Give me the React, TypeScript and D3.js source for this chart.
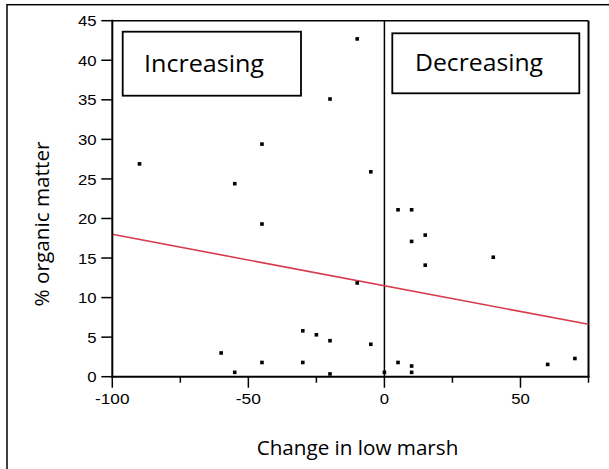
import React from "react";
import * as d3 from "d3";

const xValues = [-90, -60, -55, -55, -45, -45, -45, -30, -30, -25, -20, -20, -20, -10, -10, -5, -5, 0, 5, 5, 10, 10, 10, 10, 15, 15, 40, 60, 70];
const yValues = [26.9, 3.0, 24.4, 0.55, 29.4, 19.3, 1.8, 5.8, 1.8, 5.3, 35.1, 4.55, 0.35, 42.7, 11.85, 25.9, 4.1, 0.55, 21.1, 1.8, 21.1, 17.1, 1.35, 0.55, 17.9, 14.1, 15.1, 1.55, 2.3];
const xMajorTicks = [-100, -50, 0, 50];
const xMinorTicks = [-75, -25, 25, 75];
const yTicks = [0, 5, 10, 15, 20, 25, 30, 35, 40, 45];
const fitIntercept = 11.5;
const fitSlope = -0.065;
const xDomain = [-100, 75];
const yDomain = [0, 45];

const W = 609;
const H = 469;
const left = 112.3;
const right = 588.5;
const top = 20.7;
const bottom = 376.7;

const tickFont = "'Liberation Sans', Arial, sans-serif";
const textFont = "'Open Sans', 'Noto Sans', sans-serif";

function labelLength(t: number) {
  const s = String(t);
  const digits = s.replace("-", "").length;
  return digits * 9.3 + (s.startsWith("-") ? 6.5 : 0);
}

export default function App() {
  const x = d3.scaleLinear().domain(xDomain).range([left, right]);
  const y = d3.scaleLinear().domain(yDomain).range([bottom, top]);
  const line = d3
    .line<number>()
    .x((d) => x(d))
    .y((d) => y(fitIntercept + fitSlope * d));
  const sq = 3.6;

  return (
    <svg
      width={W}
      height={H}
      style={{ position: "fixed", left: 0, top: 0, background: "#fff" }}
    >
      <rect x={0} y={0} width={W} height={H} fill="#fff" />
      {/* outer frame */}
      <rect x={7} y={4.7} width={640} height={520} fill="none" stroke="#000" strokeWidth={1.5} />

      {/* plot frame top/right */}
      <line x1={left} x2={right} y1={top} y2={top} stroke="#000" strokeWidth={1.5} />
      <line x1={right} x2={right} y1={top} y2={bottom} stroke="#000" strokeWidth={2} />

      {/* zero vertical line */}
      <line x1={x(0)} x2={x(0)} y1={top} y2={bottom} stroke="#000" strokeWidth={1.5} />

      {/* Boxes */}
      <rect x={122.7} y={31.7} width={178.3} height={64} fill="#fff" stroke="#000" strokeWidth={1.8} />
      <text x={144} y={72} fontFamily={textFont} fontSize={24.5} textLength={120} lengthAdjust="spacingAndGlyphs">
        Increasing
      </text>
      <rect x={392.3} y={33.3} width={187} height={60} fill="#fff" stroke="#000" strokeWidth={1.8} />
      <text x={415} y={71} fontFamily={textFont} fontSize={24.5} textLength={128} lengthAdjust="spacingAndGlyphs">
        Decreasing
      </text>

      {/* regression line */}
      <path d={line(xDomain) || ""} fill="none" stroke="#d83a4e" strokeWidth={1.6} />

      {/* points */}
      {xValues.map((xv, i) => (
        <rect
          key={i}
          x={x(xv) - sq / 2}
          y={y(yValues[i]) - sq / 2}
          width={sq}
          height={sq}
          fill="#000"
        />
      ))}

      {/* y axis */}
      <line x1={left} x2={left} y1={top - 1} y2={bottom + 1} stroke="#000" strokeWidth={2} />
      {yTicks.map((t) => (
        <g key={t}>
          <line x1={left - 11} x2={left} y1={y(t)} y2={y(t)} stroke="#000" strokeWidth={1.5} />
          <text
            x={96.5}
            y={y(t)}
            dy="0.36em"
            textAnchor="end"
            fontFamily={tickFont}
            fontSize={15.5}
            textLength={labelLength(t)}
            lengthAdjust="spacingAndGlyphs"
          >
            {t}
          </text>
        </g>
      ))}

      {/* x axis */}
      <line x1={left - 1} x2={right + 1} y1={bottom} y2={bottom} stroke="#000" strokeWidth={2} />
      {xMajorTicks.map((t) => (
        <g key={t}>
          <line x1={x(t)} x2={x(t)} y1={bottom} y2={bottom + 11} stroke="#000" strokeWidth={1.5} />
          <text
            x={x(t)}
            y={403.5}
            textAnchor="middle"
            fontFamily={tickFont}
            fontSize={15.5}
            textLength={labelLength(t)}
            lengthAdjust="spacingAndGlyphs"
          >
            {t}
          </text>
        </g>
      ))}
      {xMinorTicks.map((t) => (
        <line key={t} x1={x(t)} x2={x(t)} y1={bottom} y2={bottom + 6} stroke="#000" strokeWidth={1.5} />
      ))}

      {/* axis titles */}
      <text x={256.7} y={455} fontFamily={textFont} fontSize={20.5} textLength={201.6} lengthAdjust="spacingAndGlyphs">
        Change in low marsh
      </text>
      <text
        transform="translate(49,224) rotate(-90)"
        textAnchor="middle"
        fontFamily={textFont}
        fontSize={20.5}
        textLength={165}
        lengthAdjust="spacingAndGlyphs"
      >
        % organic matter
      </text>
    </svg>
  );
}
